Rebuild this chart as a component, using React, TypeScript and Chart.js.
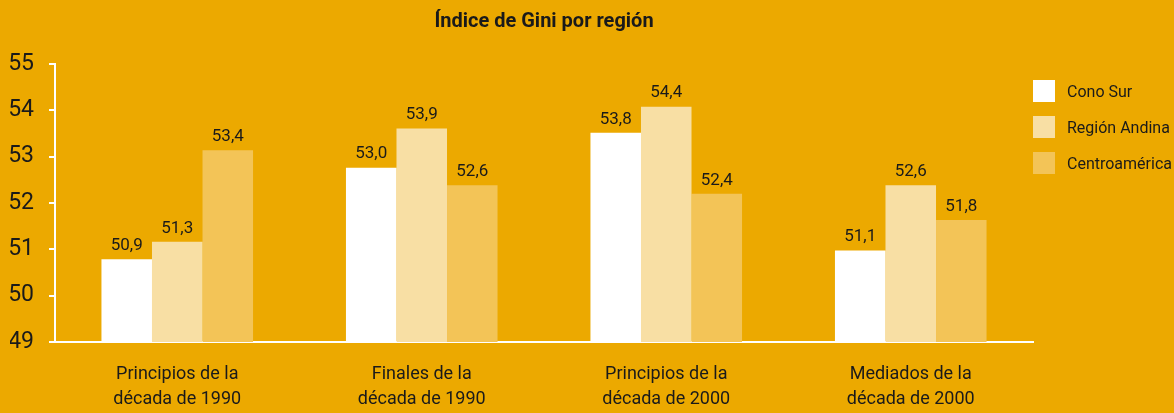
import React, { useEffect, useRef } from "react";
import { Chart, registerables } from "chart.js";

Chart.register(...registerables);

const categories = [
  ["Principios de la", "década de 1990"],
  ["Finales de la", "década de 1990"],
  ["Principios de la", "década de 2000"],
  ["Mediados de la", "década de 2000"],
];
const seriesNames = ["Cono Sur", "Región Andina", "Centroamérica"];
const conoSur = [50.9, 53.0, 53.8, 51.1];
const regionAndina = [51.3, 53.9, 54.4, 52.6];
const centroamerica = [53.4, 52.6, 52.4, 51.8];
const yTickLabels = [49, 50, 51, 52, 53, 54, 55];
const seriesColors = ["#FFFFFF", "#F8DFA4", "#F3C457"];

const BG = "#ECA900";
const TEXT = "#1A1A1A";
const FONT = "Roboto, 'Noto Sans', sans-serif";

const valueLabels = {
  id: "valueLabels",
  afterDatasetsDraw(chart: any) {
    const ctx = chart.ctx;
    ctx.save();
    ctx.font = `17px ${FONT}`;
    ctx.fillStyle = TEXT;
    ctx.textAlign = "center";
    ctx.textBaseline = "bottom";
    chart.data.datasets.forEach((ds: any, i: number) => {
      const meta = chart.getDatasetMeta(i);
      meta.data.forEach((bar: any, j: number) => {
        const v = ds.data[j] as number;
        ctx.fillText(v.toFixed(1).replace(".", ","), bar.x, bar.y - 5);
      });
    });
    ctx.restore();
  },
};

export default function App() {
  const ref = useRef<HTMLCanvasElement | null>(null);

  useEffect(() => {
    document.body.style.margin = "0";
    document.body.style.background = BG;
    if (!ref.current) return;
    const series = [conoSur, regionAndina, centroamerica];
    const chart = new Chart(ref.current, {
      type: "bar",
      data: {
        labels: categories,
        datasets: series.map((d, i) => ({
          label: seriesNames[i],
          data: d,
          backgroundColor: seriesColors[i],
          borderWidth: 0,
          yAxisID: "y",
          barPercentage: 1,
          categoryPercentage: 0.62,
        })),
      },
      options: {
        animation: false,
        responsive: false,
        maintainAspectRatio: false,
        layout: { padding: { left: 10, right: 141, top: 0, bottom: 0 } },
        plugins: {
          legend: { display: false },
          tooltip: { enabled: false },
          title: {
            display: true,
            text: "Índice de Gini por región",
            color: TEXT,
            fullSize: false,
            font: { family: FONT, size: 20, weight: "bold" },
            padding: { top: 10, bottom: 30 },
          },
        },
        scales: {
          x: {
            grid: { display: true, drawOnChartArea: false, drawTicks: false },
            border: { display: true, color: "#FFFFFF", width: 2 },
            afterFit: (axis: any) => {
              axis.height = 71;
            },
            ticks: {
              color: TEXT,
              font: { family: FONT, size: 18, lineHeight: 1.4 },
              padding: 20,
              maxRotation: 0,
            },
          },
          y: {
            display: false,
            min: 49,
            max: 55.38,
          },
          yl: {
            type: "linear",
            position: "left",
            min: 49,
            max: 55,
            afterBuildTicks: (axis: any) => {
              axis.ticks = yTickLabels.map((v) => ({ value: v }));
            },
            afterFit: (axis: any) => {
              axis.width = 45;
            },
            grid: {
              drawOnChartArea: false,
              drawTicks: true,
              tickLength: 6,
              color: "#FFFFFF",
              lineWidth: 2,
            },
            border: { display: true, color: "#FFFFFF", width: 2 },
            ticks: {
              color: TEXT,
              font: { family: FONT, size: 23 },
              padding: 15,
            },
          },
        },
      },
      plugins: [valueLabels],
    });
    return () => chart.destroy();
  }, []);

  return (
    <div style={{ position: "relative", width: 1174, height: 413, background: BG }}>
      <canvas ref={ref} width={1174} height={413} style={{ display: "block", width: 1174, height: 413 }} />
      {seriesNames.map((name, i) => (
        <div
          key={name}
          style={{
            position: "absolute",
            left: 1033,
            top: 80 + i * 36,
            height: 22,
            display: "flex",
            alignItems: "center",
            fontFamily: FONT,
            fontSize: 16,
            color: TEXT,
            whiteSpace: "nowrap",
          }}
        >
          <span style={{ display: "inline-block", width: 22, height: 22, background: seriesColors[i], marginRight: 12 }} />
          {name}
        </div>
      ))}
    </div>
  );
}
